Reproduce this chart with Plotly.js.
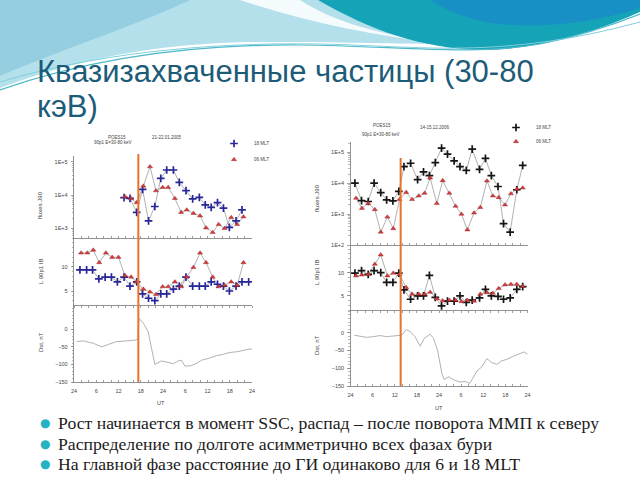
<!DOCTYPE html>
<html><head><meta charset="utf-8">
<script src="https://cdn.plot.ly/plotly-3.0.1.min.js"></script>
<style>html,body{margin:0;padding:0;background:#fff}#chart{width:640px;height:480px}</style>
</head><body><div id="chart"></div>
<script>
// ---------- DATA: left chart (21-22.01.2005) ----------
const sscLeft = 17.35;
const tL18 = [1.6,3.4,5.0,6.7,8.4,10.1,11.7,13.5,15.1,16.9,18.5,20.1,21.8,23.4,25.0,26.8,28.4,30.2,32.0,33.8,35.4,37.0,38.7,40.3,41.9,43.7,45.3,47.1];
const lL18 = [9.4,9.4,9.4,7.5,7.9,7.9,6.9,7.9,6.0,6.9,4.4,3.5,3.0,4.4,4.4,5.4,6.0,7.9,6.0,6.0,6.0,6.9,6.4,6.0,5.0,6.0,6.9,6.9];
const tFluxL18 = [13.5,15.1,16.9,18.5,20.1,21.8,23.4,25.0,26.8,28.4,30.2,32.0,33.8,35.4,37.0,38.7,40.3,41.9,43.7,45.3];
const fluxL18 = [8300,7900,3000,14800,1660,4500,32000,57000,57000,24000,13500,7600,8500,5000,4200,5900,4000,1050,1660,3550];
const tL06 = [1.9,3.6,5.2,6.8,8.6,10.3,12.0,13.75,15.4,16.9,18.7,20.5,22.1,23.9,25.4,27.2,28.9,30.4,32.2,34.0,35.6,37.4,39.0,40.6,42.4,44.0,45.7];
const lL06 = [12.9,12.9,13.5,10.9,12.9,12.0,12.0,8.2,7.9,6.9,5.4,4.8,4.3,5.9,5.9,6.9,5.9,7.9,9.9,12.9,10.9,7.9,5.9,6.2,6.9,6.2,10.9];
const tFluxL06 = [13.75,15.4,16.9,18.7,20.5,22.1,23.9,25.4,27.2,28.9,30.4,32.2,34.0,35.6,37.4,39.0,40.6,42.4,44.0,45.7];
const fluxL06 = [8900,7800,5900,18600,72000,13500,17000,17000,7900,3000,3550,2800,2350,1020,740,1290,980,2100,1290,2200];
const tDstL = [0.7,2.5,5.2,7.5,9.3,11.5,14.2,16.5,17.2,17.5,18.7,20.0,20.9,21.8,23.6,25.0,26.8,28.1,29.0,29.9,31.3,33.1,34.4,36.2,38.5,40.3,42.1,43.9,45.7,47.5,48.0];
const dstL = [-35,-33,-40,-50,-43,-35,-33,-31,-28,31,17,-7,-54,-100,-90,-94,-98,-90,-88,-105,-104,-97,-88,-83,-75,-71,-66,-64,-59,-56,-57];

// ---------- DATA: right chart (14-15.12.2006) ----------
const sscRight = 13.6;
const tR18 = [1.2,3.0,4.8,6.4,8.2,9.8,11.5,13.1,14.5,16.3,18.2,19.8,21.4,23.0,24.7,26.3,28.1,29.7,31.4,33.0,35.0,36.6,38.2,40.0,41.5,43.3,45.1,46.7];
const fluxR18 = [10200,2750,2570,10200,5000,2900,2700,5500,34700,44700,13200,23400,17800,46800,138000,89000,53700,34700,26300,129000,28200,64600,17800,7900,490,263,6200,38000];
const lR18 = [9.9,10.4,9.6,10.4,10.0,7.9,7.9,9.9,6.3,4.3,5.0,5.0,9.4,4.7,2.9,3.9,3.9,5.0,3.6,4.1,4.6,6.4,5.0,4.9,4.3,4.6,6.4,7.0];
const tR06 = [1.5,3.1,4.8,6.6,8.2,10.0,11.6,13.3,15.1,16.7,18.5,20.1,21.6,23.4,25.0,26.8,28.5,30.1,31.7,33.5,35.2,37.0,38.6,40.2,41.9,43.5,45.1,46.7];
const fluxR06 = [3300,1550,2240,1410,263,810,340,3000,5100,3000,3900,4800,15100,2240,12300,4800,1820,1000,310,1100,1660,12000,3900,3470,2000,4600,6500,7100];
const lR06 = [9.3,9.5,9.6,11.8,13.8,9.3,9.9,9.6,6.8,5.4,5.4,5.4,5.8,4.4,4.0,4.1,4.1,3.8,4.1,3.9,5.4,5.7,5.6,6.6,7.4,7.5,7.5,7.1];
const tDstR = [1.0,2.6,4.4,6.2,8.0,9.8,11.6,13.4,13.9,15.1,16.2,17.5,18.9,20.0,21.6,22.5,23.6,24.8,25.4,26.6,27.9,29.7,31.1,32.3,33.4,34.3,35.6,37.0,38.3,39.7,41.0,42.4,44.2,46.0,47.1,48.0];
const dstR = [-7,-9,-13,-11,-8,-11,-9,-7,-7,9,3,-11,-38,-16,-4,-16,-49,-115,-132,-124,-132,-139,-137,-143,-124,-108,-96,-73,-84,-89,-79,-75,-66,-58,-54,-61];

// ---------- labels ----------
const titleLine1 = 'Квазизахваченные частицы (30-80';
const titleLine2 = 'кэВ)';
const bullets = [
  'Рост начинается в момент SSC, распад – после поворота ММП к северу',
  'Распределение по долготе асимметрично всех фазах бури',
  'На главной фазе расстояние до ГИ одинаково для 6 и 18 MLT'
];
const seriesNames = ['18 MLT','06 MLT'];
const fluxTickVals = [100,1000,10000,100000];
const fluxTickText = ['1E+2','1E+3','1E+4','1E+5'];
const lTickVals = [5,10];
const dstTickVals = [0,-50,-100,-150];

// ---------- helpers ----------
const FONT = 'Liberation Sans, Arial, sans-serif';
const P = x => x/640;
const Q = y => 1 - y/480;
const xTickVals = [], xTickText = [];
for (let h = 0; h <= 48; h += 2) { xTickVals.push(h); xTickText.push(h % 6 === 0 ? (h % 24 === 0 ? '24' : String(h % 24)) : ''); }
const minorLog = [];
for (let e = 2; e <= 5; e++) for (let m = 2; m <= 9; m++) minorLog.push(m * Math.pow(10, e));

function xAxis(px0, px1, anchor, extra) {
  return Object.assign({domain:[P(px0),P(px1)], anchor, range:[0,48], tickmode:'array', tickvals:xTickVals, ticktext:xTickText,
    showticklabels:false, ticks:'inside', ticklen:2.5, tickwidth:0.6, tickcolor:'#666', showline:true, linecolor:'#777', linewidth:0.8,
    showgrid:false, zeroline:false, fixedrange:true, tickfont:{family:FONT,size:5.5,color:'#444'}}, extra||{});
}
function yAxis(py0, py1, anchor, extra) {
  return Object.assign({domain:[Q(py1),Q(py0)], anchor, ticks:'outside', ticklen:2.5, tickwidth:0.6, tickcolor:'#666', showline:true,
    linecolor:'#777', linewidth:0.8, showgrid:false, zeroline:false, fixedrange:true, ticklabelstandoff:2,
    tickfont:{family:FONT,size:5.5,color:'#444'}}, extra||{});
}
const logY = (rng) => ({type:'log', range:rng, tickmode:'array', tickvals:fluxTickVals, ticktext:fluxTickText,
  minor:{tickmode:'array', tickvals:minorLog, ticks:'outside', ticklen:1.5, tickcolor:'#888'}});
const lY = (rng) => ({range:rng, tickmode:'array', tickvals:lTickVals, minor:{dtick:1, ticks:'outside', ticklen:1.5, tickcolor:'#888'}});
const dY = (rng) => ({range:rng, tickmode:'array', tickvals:dstTickVals, minor:{dtick:10, ticks:'outside', ticklen:1.5, tickcolor:'#888'}});

const GREY = '#a8a8a8';
const mk18L = {symbol:'cross-thin', size:5.5, color:'#27279a', line:{color:'#27279a', width:1.7}};
const mk18R = {symbol:'cross-thin', size:5.5, color:'#151515', line:{color:'#151515', width:1.7}};
const mk06 = {symbol:'triangle-up', size:4.5, color:'#d83c3c', line:{color:'#8a1c1c', width:0.4}};
function lineTr(x, y, xa, ya) {
  return {x, y, xaxis:xa, yaxis:ya, type:'scatter', mode:'lines', line:{color:GREY, width:0.9}, showlegend:false, hoverinfo:'skip'};
}
function mkTr(x, y, xa, ya, marker, name, legend, show) {
  return {x, y, xaxis:xa, yaxis:ya, type:'scatter', mode:'markers', marker, name, legend, showlegend:!!show, hoverinfo:'skip'};
}

const data = [
  lineTr(tFluxL18, fluxL18, 'x', 'y'), lineTr(tFluxL06, fluxL06, 'x', 'y'),
  lineTr(tL18, lL18, 'x2', 'y2'), lineTr(tL06, lL06, 'x2', 'y2'),
  lineTr(tDstL, dstL, 'x3', 'y3'),
  lineTr(tR18, fluxR18, 'x4', 'y4'), lineTr(tR06, fluxR06, 'x4', 'y4'),
  lineTr(tR18, lR18, 'x5', 'y5'), lineTr(tR06, lR06, 'x5', 'y5'),
  lineTr(tDstR, dstR, 'x6', 'y6'),
  mkTr(tFluxL18, fluxL18, 'x', 'y', mk18L, seriesNames[0], 'legend', true),
  mkTr(tFluxL06, fluxL06, 'x', 'y', mk06, seriesNames[1], 'legend2', true),
  mkTr(tL18, lL18, 'x2', 'y2', mk18L, seriesNames[0], 'legend', false),
  mkTr(tL06, lL06, 'x2', 'y2', mk06, seriesNames[1], 'legend2', false),
  mkTr(tR18, fluxR18, 'x4', 'y4', mk18R, seriesNames[0], 'legend3', true),
  mkTr(tR06, fluxR06, 'x4', 'y4', mk06, seriesNames[1], 'legend4', true),
  mkTr(tR18, lR18, 'x5', 'y5', mk18R, seriesNames[0], 'legend3', false),
  mkTr(tR06, lR06, 'x5', 'y5', mk06, seriesNames[1], 'legend4', false)
];

// background decoration paths (pixel coords -> paper)
function path(cmds) {
  return cmds.map(c => {
    let s = c[0];
    for (let i = 1; i < c.length; i += 2) s += ' ' + P(c[i]).toFixed(4) + ',' + Q(c[i+1]).toFixed(4);
    return s;
  }).join(' ');
}
const deco = [
  {type:'path', xref:'paper', yref:'paper', layer:'below', line:{width:0}, fillcolor:'#b4e0ec',
   path: path([['M',0,0],['L',330,0],['C',360,18,400,34,470,44],['C',380,44,300,40,220,43],['C',140,47,70,62,0,88],['Z']])},
  {type:'path', xref:'paper', yref:'paper', layer:'below', line:{width:0}, fillcolor:'#86c6dc', opacity:0.7,
   path: path([['M',0,0],['L',190,0],['C',140,24,60,50,0,76],['Z']])},
  {type:'path', xref:'paper', yref:'paper', layer:'below', line:{width:0}, fillcolor:'#ffffff', opacity:0.85,
   path: path([['M',240,0],['L',300,0],['C',330,20,380,36,450,44],['C',370,36,300,20,240,0],['Z']])},
  {type:'path', xref:'paper', yref:'paper', layer:'below', line:{width:0}, fillcolor:'#15a3b7',
   path: path([['M',318,0],['L',640,0],['L',640,12],['C',600,30,540,50,480,50],['C',420,48,370,30,318,0],['Z']])},
  {type:'path', xref:'paper', yref:'paper', layer:'below', line:{width:0}, fillcolor:'#1a89c9', opacity:0.75,
   path: path([['M',430,0],['L',640,0],['L',640,8],['C',590,24,530,30,485,22],['C',460,16,442,8,430,0],['Z']])},
  {type:'path', xref:'paper', yref:'paper', layer:'below', line:{color:'#4fb9ca', width:1.2},
   path: path([['M',0,90],['C',80,62,180,44,300,45],['C',400,46,470,56,540,44],['C',580,36,615,24,640,14]])},
  {type:'path', xref:'paper', yref:'paper', layer:'below', line:{color:'#7fcfdc', width:1},
   path: path([['M',0,82],['C',90,55,200,42,320,44],['C',420,46,500,60,640,22]])},
  // SSC lines
  {type:'line', xref:'x', yref:'paper', x0:sscLeft, x1:sscLeft, y0:Q(382), y1:Q(154), line:{color:'#e8722a', width:2}},
  {type:'line', xref:'x4', yref:'paper', x0:sscRight, x1:sscRight, y0:Q(386), y1:Q(158), line:{color:'#e8722a', width:2}}
];

function ann(text, x, y, size, opts) {
  return Object.assign({text, x:P(x), y:Q(y), xref:'paper', yref:'paper', showarrow:false, xanchor:'center', yanchor:'middle',
    font:{family:FONT, size, color:'#444'}}, opts||{});
}
const TFONT = 'Liberation Sans, Arial, sans-serif';
const annotations = [
  ann(titleLine1, 36, 71, 31, {xanchor:'left', borderpad:0, font:{family:TFONT, size:31, color:'#1d5c78'}}),
  ann(titleLine2, 36, 106.5, 31, {xanchor:'left', borderpad:0, font:{family:TFONT, size:31, color:'#1d5c78'}}),
  ann('POES15', 117, 137, 4.5), ann('90p1 E=30-80 keV', 112, 143, 4.5), ann('21-22.01.2005', 167, 137, 4.5),
  ann('POES15', 382, 126, 4.5), ann('90p1 E=30-80 keV', 380, 134, 4.5), ann('14-15.12.2006', 435, 128, 4.5),
  ann('fluxes J90', 40, 205, 6, {textangle:-90}), ann('L 90p1 IB', 41, 272, 6, {textangle:-90}), ann('Dst, nT', 41, 342, 6, {textangle:-90}),
  ann('fluxes J90', 317, 198, 6, {textangle:-90}), ann('L 90p1 IB', 317, 273, 6, {textangle:-90}), ann('Dst, nT', 317, 345, 6, {textangle:-90}),
  ann('UT', 161, 403, 5.5), ann('UT', 439, 408, 5.5)
];
bullets.forEach((b, i) => {
  annotations.push(ann('●', 45, 423 + i*20.5, 12, {font:{family:'DejaVu Sans', size:12, color:'#25b3c3'}}));
  annotations.push(ann(b, 56, 423 + i*20.5, 17.7, {xanchor:'left', font:{family:'Liberation Serif, DejaVu Serif, serif', size:17.7, color:'#1c1c1c'}}));
});

const legBase = {xanchor:'left', yanchor:'top', bgcolor:'rgba(0,0,0,0)', font:{family:FONT,size:4.5,color:'#444'}, tracegroupgap:0};
const layout = {
  width:640, height:480, margin:{l:0,r:0,t:0,b:0}, paper_bgcolor:'#ffffff', plot_bgcolor:'rgba(0,0,0,0)',
  showlegend:true, hovermode:false,
  legend: Object.assign({x:P(214), y:Q(129)}, legBase),
  legend2: Object.assign({x:P(214), y:Q(145)}, legBase),
  legend3: Object.assign({x:P(496), y:Q(113)}, legBase),
  legend4: Object.assign({x:P(496), y:Q(127)}, legBase),
  xaxis: xAxis(74, 252, 'y'),
  xaxis2: xAxis(74, 252, 'y2', {ticks:'outside'}),
  xaxis3: xAxis(74, 252, 'y3', {showticklabels:true, ticklabelstandoff:4}),
  yaxis: yAxis(156, 238, 'x', logY([2.7, 5.18])),
  yaxis2: yAxis(238, 305, 'x2', lY([2.1, 16])),
  yaxis3: yAxis(305, 382, 'x3', dY([-150, 69])),
  xaxis4: xAxis(350.5, 527.5, 'y4'),
  xaxis5: xAxis(350.5, 527.5, 'y5', {ticks:'outside'}),
  xaxis6: xAxis(350.5, 527.5, 'y6', {showticklabels:true, ticklabelstandoff:4}),
  yaxis4: yAxis(142, 245, 'x4', logY([2, 5.34])),
  yaxis5: yAxis(245, 310, 'x5', lY([2.0, 15.9])),
  yaxis6: yAxis(310, 386, 'x6', dY([-150, 64])),
  shapes: deco,
  annotations
};
Plotly.newPlot('chart', data, layout, {staticPlot:true, displayModeBar:false});
</script></body></html>
